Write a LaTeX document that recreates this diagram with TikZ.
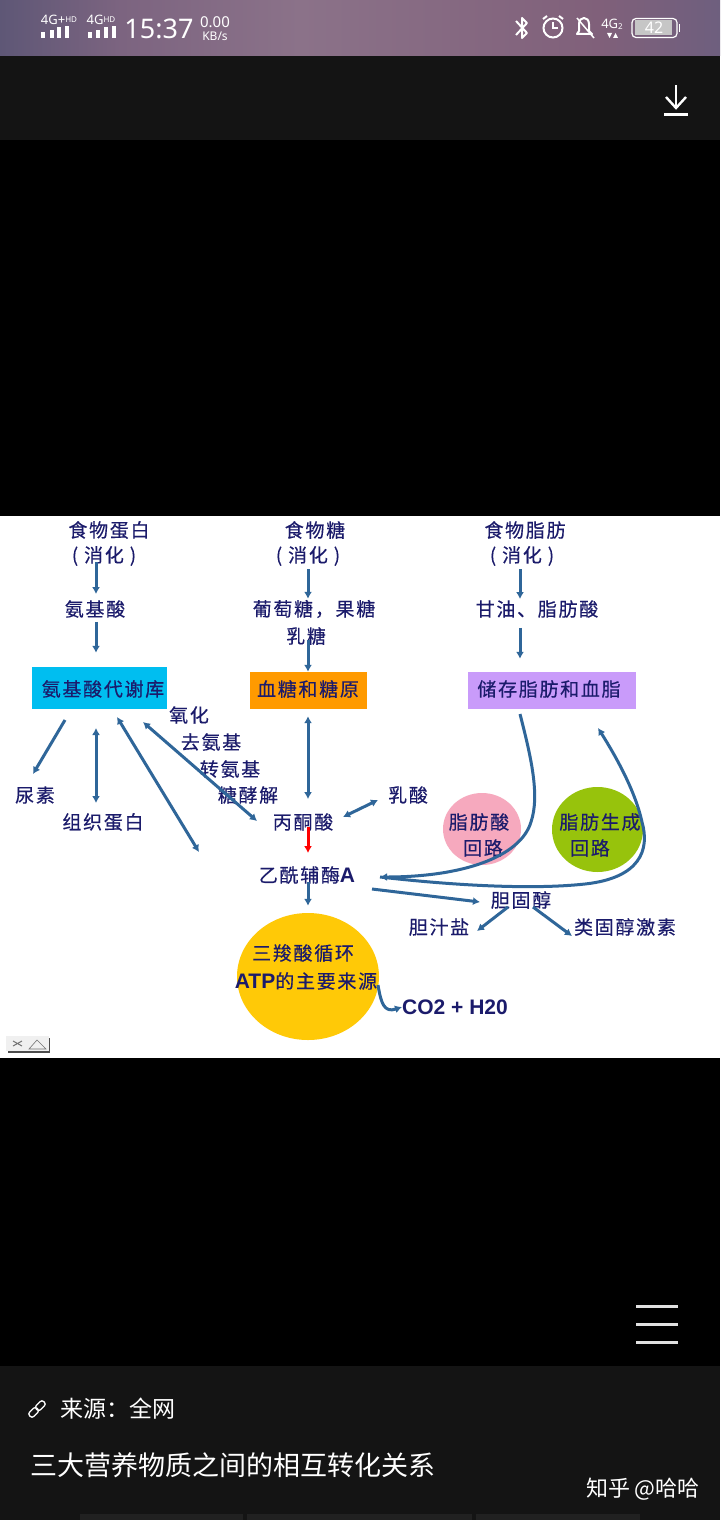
\documentclass[tikz,border=0pt]{standalone}
\usepackage{fontspec}
\usepackage{tikz}
\usetikzlibrary{positioning,arrows.meta,shapes.geometric}
\setmainfont{Noto Sans}
\newfontfamily\cjkfont[LetterSpace=9,FakeBold=0.35]{Noto Sans CJK SC}
\newfontfamily\uifont{Noto Sans CJK SC}
\newfontfamily\latinbold{Liberation Sans}
\definecolor{inkblue}{HTML}{1B1B6B}
\definecolor{flowblue}{HTML}{2F6699}
\definecolor{panel}{HTML}{141414}
\definecolor{poolcyan}{HTML}{00BEF0}
\definecolor{sugarorange}{HTML}{FF9A00}
\definecolor{fatpurple}{HTML}{C99BFA}
\definecolor{fapink}{HTML}{F6A9BE}
\definecolor{synthgreen}{HTML}{97C30C}
\definecolor{tcayellow}{HTML}{FFC907}
\definecolor{barA}{HTML}{5E5776}
\definecolor{barB}{HTML}{7C6480}
\definecolor{barC}{HTML}{8B7289}
\definecolor{barD}{HTML}{80607A}
\definecolor{barE}{HTML}{6E5F7E}
\tikzset{
  lbl/.style={inner sep=0pt,text=inkblue,font=\cjkfont\fontsize{19}{23}\selectfont},
  boxed/.style={rectangle,inner sep=0pt,minimum height=42pt},
  blob/.style={ellipse,inner sep=0pt},
  flow/.style={draw=flowblue,line width=3pt,-{Latex[length=7pt,width=8pt]}},
  twoway/.style={draw=flowblue,line width=3pt,{Latex[length=7pt,width=8pt]}-{Latex[length=7pt,width=8pt]}},
  uitext/.style={inner sep=0pt,text=white,font=\uifont\fontsize{#1}{#1}\selectfont},
  uitext/.default=22,
  icon/.style={draw=white,line width=1.5pt}
}
\begin{document}
\begin{tikzpicture}[x=1pt,y=-1pt]
\useasboundingbox (0,0) rectangle (720,1520);
% screen bands
\fill[black] (0,0) rectangle (720,1520);
\shade[left color=barA,right color=barB] (0,0) rectangle (120,56);
\shade[left color=barB,right color=barC] (120,0) rectangle (300,56);
\shade[left color=barC,right color=barD] (300,0) rectangle (600,56);
\shade[left color=barD,right color=barE] (600,0) rectangle (720,56);
\fill[panel] (0,56) rectangle (720,140);
\fill[white] (0,516) rectangle (720,1058);
\fill[panel] (0,1366) rectangle (720,1520);
\fill[white!13!black] (80,1514) rectangle (243,1520);
\fill[white!13!black] (247,1514) rectangle (472,1520);
\fill[white!13!black] (476,1514) rectangle (640,1520);

% status bar
\node[uitext=13,font=\bfseries\fontsize{13}{13}\selectfont] (netA) at (59,20) {4G+\raisebox{2pt}{\fontsize{8}{8}\selectfont HD}};
\node[uitext=13,font=\bfseries\fontsize{13}{13}\selectfont] (netB) at (101,20) {4G\raisebox{2pt}{\fontsize{8}{8}\selectfont HD}};
\foreach \x/\h in {42.5/6,51.5/8,59/10.5,67/12,89.5/6,98/8,106/10.5,114/12}
  \fill[white] (\x-2,38) rectangle (\x+2,38-\h);
\node[uitext=26,font=\fontsize{27}{27}\selectfont] (clock) at (159,29) {15:37};
\node[uitext=14,font=\fontsize{15}{15}\selectfont] (speed) at (215,22) {0.00};
\node[uitext=11,font=\fontsize{12}{12}\selectfont] (speedunit) at (215,36) {KB/s};
\draw[icon,line width=2pt,line join=round] (516,21) -- (527,33) -- (522,38) -- (522,18) -- (527,23) -- (516,35);
\draw[icon,line width=2pt] (553,28) circle (9.5);
\draw[icon] (553,22) -- (553,28) -- (558,28);
\draw[icon,line width=2pt] (543,19) -- (547,16);
\draw[icon,line width=2pt] (563,19) -- (559,16);
\draw[icon,line width=2pt,line join=round] (577,34) -- (579,31) -- (579,24) .. controls (579,16) and (589,16) .. (589,24) -- (589,31) -- (592,34) -- cycle;
\draw[icon] (577,18) -- (594,38);
\node[uitext=13,font=\bfseries\fontsize{13}{13}\selectfont] (netC) at (612,24) {4G\raisebox{-1pt}{\fontsize{8}{8}\selectfont 2}};
\fill[white] (607,33) -- (612,33) -- (609.5,38) -- cycle;
\fill[white] (613,38) -- (618,38) -- (615.5,33) -- cycle;
\fill[white!55!gray] (635,20.5) rectangle (672,35.5);
\draw[white,line width=1.2pt,rounded corners=4pt] (632,18.5) rectangle (677,37.5);
\fill[white] (678.5,24) rectangle (680,32);
\node[uitext=15,font=\fontsize{16}{16}\selectfont] (battery) at (654,28) {42};
% download icon
\draw[icon,line width=2.4pt] (676,85) -- (676,108);
\draw[icon,line width=2.4pt] (666,97) -- (676,108) -- (686,97);
\draw[icon,line width=3pt] (664,114) -- (688,114);

% coloured shapes
\node[boxed,fill=poolcyan,minimum width=135pt] (poolBox) at (99.5,688) {};
\node[boxed,fill=sugarorange,minimum width=117pt,minimum height=37pt] (sugarBox) at (308.5,690.5) {};
\node[boxed,fill=fatpurple,minimum width=168pt,minimum height=37pt] (fatBox) at (552,690.5) {};
\node[blob,fill=fapink,minimum width=78pt,minimum height=72pt] (faCircle) at (482,829) {};
\node[blob,fill=synthgreen,minimum width=91pt,minimum height=85pt] (synthCircle) at (597.5,829.5) {};
\node[blob,fill=tcayellow,minimum width=142pt,minimum height=127pt] (tcaCircle) at (308,976.5) {};

% arrows behind the labels
\coordinate (colA) at (96,0);
\coordinate (colB) at (308,0);
\coordinate (colC) at (520,0);
\coordinate (ureaStart) at (65,720);
\coordinate (ureaEnd) at (33,774);
\coordinate (tissueTop) at (96,728);
\coordinate (tissueEnd) at (96,803);
\coordinate (longTop) at (117,717);
\coordinate (longEnd) at (199,852);
\coordinate (shortTop) at (143,722);
\coordinate (shortEnd) at (257,821);
\coordinate (lacStart) at (343,817);
\coordinate (lacEnd) at (378,800);
\coordinate (fatStart) at (520,714);
\coordinate (fatReturn) at (598,728);
\coordinate (meet) at (380,877);
\coordinate (cholStart) at (372,889);
\coordinate (cholEnd) at (480,902);
\coordinate (bileStart) at (508,907);
\coordinate (bileEnd) at (477,931);
\coordinate (steroidStart) at (533,907);
\coordinate (steroidEnd) at (572,936);
\coordinate (co2Start) at (378,985);

% labels
\node[lbl] (foodProtein) at (109,530) {食物蛋白};
\node[lbl] (digestA) at (104,556) {( 消化 )};
\node[lbl] (amino) at (95,609) {氨基酸};
\node[lbl] (poolText) at (103,689) {氨基酸代谢库};
\node[lbl] (foodSugar) at (315,530) {食物糖};
\node[lbl] (digestB) at (308,556) {( 消化 )};
\node[lbl] (glucose) at (314,609) {葡萄糖，果糖};
\node[lbl] (lactose) at (306,636) {乳糖};
\node[lbl] (sugarText) at (308,689) {血糖和糖原};
\node[lbl] (foodFat) at (525,530) {食物脂肪};
\node[lbl] (digestC) at (522,556) {( 消化 )};
\node[lbl] (glycerol) at (537,609) {甘油、脂肪酸};
\node[lbl] (fatText) at (549,689) {储存脂肪和血脂};
\node[lbl] (oxid) at (189,715) {氧化};
\node[lbl] (deamin) at (211,742) {去氨基};
\node[lbl] (transamin) at (230,769) {转氨基};
\node[lbl] (glycolysis) at (248,795) {糖酵解};
\node[lbl] (urea) at (35,795) {尿素};
\node[lbl] (tissue) at (103,822) {组织蛋白};
\node[lbl] (pyruvate) at (303,822) {丙酮酸};
\node[lbl] (lactate) at (408,795) {乳酸};
\node[lbl] (acetyl) at (307,875) {乙酰辅酶{\latinbold\bfseries\fontsize{21}{23}\selectfont A}};
\node[lbl] (faTop) at (479,822) {脂肪酸};
\node[lbl] (faBottom) at (483,848) {回路};
\node[lbl] (synthTop) at (600,822) {脂肪生成};
\node[lbl] (synthBottom) at (590,848) {回路};
\node[lbl] (cholesterol) at (521,900) {胆固醇};
\node[lbl] (bile) at (439,927) {胆汁盐};
\node[lbl] (steroid) at (625,927) {类固醇激素};
\node[lbl] (tcaTop) at (303,953) {三羧酸循环};
\node[lbl] (tcaBottom) at (306,981) {{\latinbold\bfseries\fontsize{21}{23}\selectfont ATP}的主要来源};
\node[lbl,font=\latinbold\bfseries\fontsize{21}{23}\selectfont] (co2) at (455,1007) {CO2 + H20};

% arrows
\draw[flow,shorten <=-4pt,shorten >=6pt] (digestA.south -| colA) -- (amino.north -| colA);
\draw[flow,shorten <=4pt,shorten >=14pt] (amino.south -| colA) -- (poolBox.north -| colA);
\draw[flow,shorten <=3pt,shorten >=1pt] (digestB.south -| colB) -- (glucose.north -| colB);
\draw[flow,shorten <=-5pt] (lactose.south -| colB) -- (sugarBox.north -| colB);
\draw[twoway,shorten <=7pt,shorten >=14pt] (sugarBox.south -| colB) -- (pyruvate.north -| colB);
\draw[flow,draw=red,shorten <=-4pt,shorten >=13pt] (pyruvate.south -| colB) -- (acetyl.north -| colB);
\draw[flow,shorten <=-2pt,shorten >=7pt] (acetyl.south -| colB) -- (tcaCircle.north -| colB);
\draw[flow,shorten <=3pt,shorten >=1pt] (digestC.south -| colC) -- (glycerol.north -| colC);
\draw[flow,shorten <=10pt,shorten >=13pt] (glycerol.south -| colC) -- (fatBox.north -| colC);
\draw[flow] (ureaStart) -- (ureaEnd);
\draw[twoway] (tissueTop) -- (tissueEnd);
\draw[twoway] (longTop) -- (longEnd);
\draw[twoway] (shortTop) -- (shortEnd);
\draw[twoway] (lacStart) -- (lacEnd);
\draw[flow] (fatStart) .. controls (531,757) and (540,795) .. (531,822) .. controls (520,858) and (460,877) .. (meet);
\draw[flow] (meet) .. controls (450,885) and (530,890) .. (585,884) .. controls (640,878) and (650,850) .. (642,822) .. controls (635,790) and (615,755) .. (fatReturn);
\draw[flow] (cholStart) -- (cholEnd);
\draw[flow] (bileStart) -- (bileEnd);
\draw[flow] (steroidStart) -- (steroidEnd);
\draw[flow] (co2Start) .. controls (381,1003) and (384,1013) .. (co2.west);

% small button
\fill[black!70] (8,1038) rectangle (50,1053);
\fill[black!6] (6,1036) rectangle (48.5,1051);
\draw[black!55,line width=.6pt] (29,1049) -- (37,1040) -- (46,1049) -- cycle;
\draw[black!55,line width=1pt] (13,1041) -- (22,1046) (13,1046) -- (22,1041);

% hamburger
\foreach \y in {1306,1324,1342}
  \draw[white!88!black,line width=3pt] (636,\y) -- (678,\y);

% footer
\draw[white,line width=1.3pt,rounded corners=2.5pt,rotate around={45:(37,1409)}] (27,1406) rectangle (37.5,1412);
\draw[white,line width=1.3pt,rounded corners=2.5pt,rotate around={45:(37,1409)}] (36.5,1406) rectangle (47,1412);
\node[uitext=23,anchor=west] (source) at (60,1409) {来源：全网};
\node[uitext=27,anchor=west] (caption) at (30,1465) {三大营养物质之间的相互转化关系};
\node[uitext=22,anchor=east] (brand) at (700,1489) {知乎 @哈哈};
\end{tikzpicture}
\end{document}
